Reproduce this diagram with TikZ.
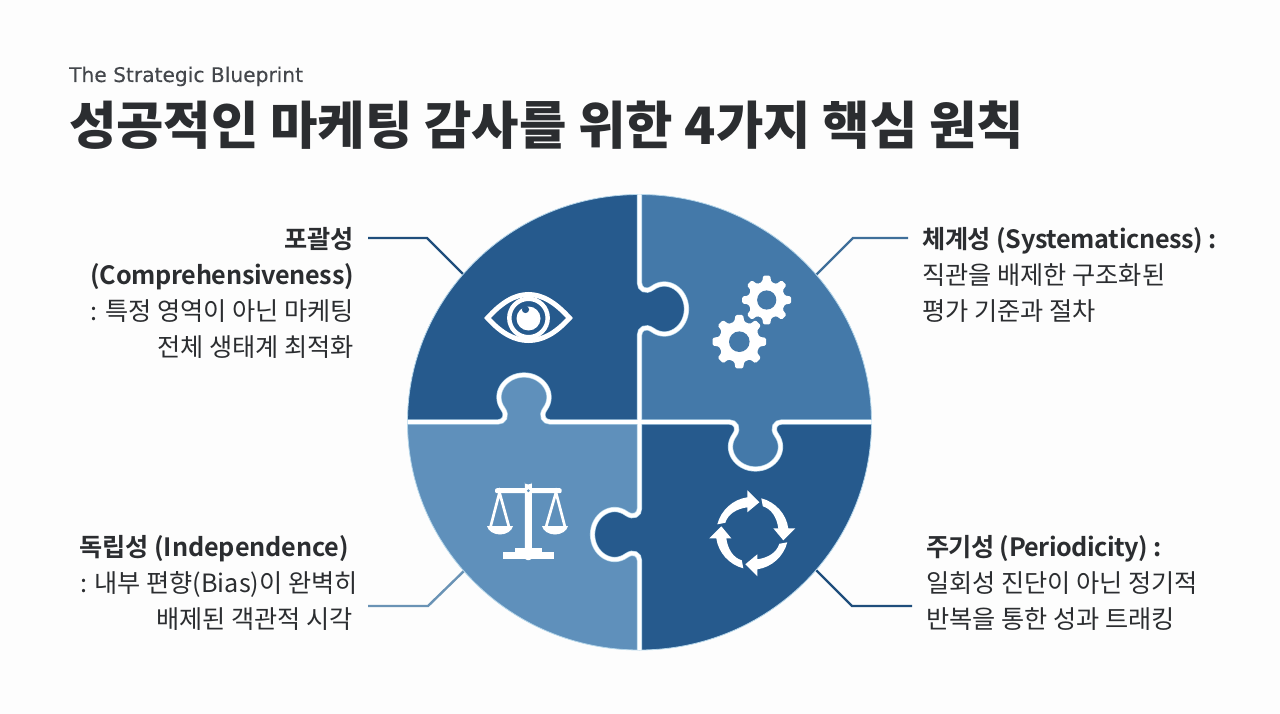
\documentclass[tikz,border=0pt]{standalone}
\usepackage{fontspec}
\setmainfont{Noto Sans CJK KR}
\newfontfamily\subf[FakeBold=0.2]{DejaVu Sans}
\newfontfamily\boldtight[LetterSpace=-1.3]{Noto Sans CJK KR Bold}
\newfontfamily\boldtighter[LetterSpace=-2]{Noto Sans CJK KR Bold}
\newfontfamily\boldloose[LetterSpace=-0.4]{Noto Sans CJK KR Bold}
\definecolor{bgc}{HTML}{FDFDFD}
\definecolor{pdark}{HTML}{265A8D}
\definecolor{pmid}{HTML}{4479A9}
\definecolor{plight}{HTML}{5F90BB}
\definecolor{rim}{HTML}{B5D6EA}
\definecolor{inkc}{HTML}{2B2D30}
\definecolor{subc}{HTML}{44474C}
\definecolor{lnd}{HTML}{1F4E7C}
\definecolor{lnm}{HTML}{3F6F9A}
\definecolor{lnl}{HTML}{6A93B5}
\tikzset{
  titletext/.style={anchor=base west,inner sep=0pt,text=inkc,font=\fontsize{51.5}{54}\selectfont\bfseries},
  subtext/.style={anchor=base west,inner sep=0pt,text=subc,font=\fontsize{20.2}{22}\selectfont\subf},
  lefttext/.style={anchor=north east,inner sep=0pt,align=right,text=inkc,font=\fontsize{25.2}{36}\selectfont},
  righttext/.style={anchor=north west,inner sep=0pt,align=left,text=inkc,font=\fontsize{25.2}{36}\selectfont},
  leader/.style={line width=2.4pt,line join=miter},
  seamrim/.style={draw=rim,line width=5.2pt},
  seamwhite/.style={draw=white,line width=3.9pt},
  iconw/.style={fill=white,draw=none}
}
\newcommand{\bt}[1]{{\boldtight #1}}
\def\seamL{-- (498,422) .. controls (504,422) and (508,416) .. (503,409) .. controls (492,394) and (505,375) .. (524,375) .. controls (543,375) and (556,394) .. (545,409) .. controls (540,416) and (544,422) .. (550,422) -- (639.5,422)}
\def\seamT{-- (639.5,335) .. controls (639.5,329) and (645.5,325) .. (652.5,330) .. controls (667.5,341) and (686.5,328) .. (686.5,309) .. controls (686.5,290) and (667.5,277) .. (652.5,288) .. controls (645.5,293) and (639.5,289) .. (639.5,283) -- (639.5,194.5)}
\def\seamB{-- (639.5,508.5) .. controls (639.5,514.5) and (633.5,518.5) .. (626.5,513.5) .. controls (611.5,502.5) and (592.5,515.5) .. (592.5,534.5) .. controls (592.5,553.5) and (611.5,566.5) .. (626.5,555.5) .. controls (633.5,550.5) and (639.5,554.5) .. (639.5,560.5) -- (639.5,650)}
\def\seamR{-- (781.5,422) .. controls (775.5,422) and (771.5,428) .. (776.5,435) .. controls (787.5,450) and (774.5,469) .. (755.5,469) .. controls (736.5,469) and (723.5,450) .. (734.5,435) .. controls (739.5,428) and (735.5,422) .. (729.5,422) -- (639.5,422)}
\newcommand{\gearicon}[5]{%
  \begin{scope}[shift={(#1,#2)}]
    \fill[white,rounded corners=1.3pt] (-90-14:#4)
      \foreach \k in {0,...,7}{
        -- (-90+\k*45-14:#4) -- (-90+\k*45-8:#3) -- (-90+\k*45+8:#3) -- (-90+\k*45+14:#4)
      } -- cycle;
    \fill[pmid] (0,0) circle[radius=#5];
  \end{scope}}
\begin{document}
\begin{tikzpicture}[x=1pt,y=-1pt]
\useasboundingbox (0,0) rectangle (1280,714);
\fill[bgc] (0,0) rectangle (1280,714);

\node[subtext] (sub) at (69,82) {The Strategic Blueprint};
\node[titletext] (ttl) at (69,145) {성공적인 마케팅 감사를 위한 4가지 핵심 원칙};

\coordinate (a1) at (368,238); \coordinate (a2) at (427,238); \coordinate (a3) at (466,277);
\coordinate (b1) at (908,238); \coordinate (b2) at (853,238); \coordinate (b3) at (815,276);
\coordinate (c1) at (368,606); \coordinate (c2) at (428,606); \coordinate (c3) at (466,569);
\coordinate (d1) at (912,606); \coordinate (d2) at (852,606); \coordinate (d3) at (814,568);
\draw[leader,lnd] (a1) -- (a2) -- (a3);
\draw[leader,lnm] (b1) -- (b2) -- (b3);
\draw[leader,lnl] (c1) -- (c2) -- (c3);
\draw[leader,lnd] (d1) -- (d2) -- (d3);

\path[fill=pdark] (407.5,422) \seamL \seamT .. controls (511.4,194.5) and (407.5,296.2) .. (407.5,422) -- cycle;
\path[fill=pmid] (639.5,422) \seamT .. controls (767.6,194.5) and (871.5,296.2) .. (871.5,422) \seamR -- cycle;
\path[fill=plight] (407.5,422) \seamL \seamB .. controls (511.4,650) and (407.5,548.2) .. (407.5,422) -- cycle;
\path[fill=pdark] (639.5,422) \seamB .. controls (767.6,650) and (871.5,548.2) .. (871.5,422) \seamR -- cycle;
\draw[rim,line width=.8pt] (639.5,422.25) ellipse[x radius=232,y radius=227.75];
\path[seamrim] (407.5,422) \seamL; \path[seamrim] (639.5,422) \seamT;
\path[seamrim] (639.5,422) \seamB; \path[seamrim] (871.5,422) \seamR;
\path[seamwhite] (407.5,422) \seamL; \path[seamwhite] (639.5,422) \seamT;
\path[seamwhite] (639.5,422) \seamB; \path[seamwhite] (871.5,422) \seamR;

% eye
\draw[white,line width=5pt,miter limit=10] (487.5,318) .. controls (502,302) and (515,294.5) .. (528.5,294.5) .. controls (542,294.5) and (555,302) .. (569.5,318) .. controls (555,334) and (542,340.5) .. (528.5,340.5) .. controls (515,340.5) and (502,334) .. (487.5,318) -- cycle;
\draw[white,line width=4.4pt] (528.5,318) circle[radius=19.2];
\fill[white] (528.5,318.5) circle[radius=12];
\fill[pdark] (525.5,309.5) circle[radius=3.6];

% gears
\gearicon{766.7}{300}{24.7}{18.6}{9.6}
\gearicon{739.3}{341.7}{27}{20.6}{10.3}

% scale
\fill[iconw,rounded corners=2.5pt] (524.8,560) -- (524.8,481) arc[start angle=180,end angle=0,radius=3.5] -- (531.8,560) -- cycle;
\fill[iconw,rounded corners=2pt] (495,488.2) rectangle (561.7,493.2);
\fill[plight] (528.3,490.7) circle[radius=1.5];
\draw[white,line width=2.7pt] (490.5,527) -- (499.5,492.5) -- (509,527);
\draw[white,line width=2.7pt] (546,527) -- (556,492.5) -- (565,527);
\fill[iconw] (487,526) .. controls (488,531) and (494,534.5) .. (500,534.5) .. controls (506,534.5) and (512,531) .. (513,526) -- cycle;
\fill[iconw] (542,526) .. controls (543,531) and (549,534.5) .. (555,534.5) .. controls (561,534.5) and (567,531) .. (568,526) -- cycle;
\fill[iconw] (515,548) rectangle (541.7,553);
\fill[iconw] (502.7,552) rectangle (554,559.3);

% cycle
\foreach \a in {0,90,180,270}{
  \begin{scope}[shift={(752.3,533.3)},rotate=\a]
    \fill[white] (9,-35) .. controls (23,-31.4) and (34,-19.4) .. (36,-5) -- (43,-5) -- (31,7) -- (21,-5) -- (26,-5) .. controls (24.5,-16) and (19,-24.5) .. (10.5,-27) -- cycle;
  \end{scope}}

% labels
\node[lefttext] (tl) at (354,227.5) {\bt{포괄성}\\\bt{(Comprehensiveness)}\\: 특정 영역이 아닌 마케팅\\전체 생태계 최적화};
\node[righttext] (tr) at (922,227) {{\boldtight 체계성 (Systematicness) :}\\직관을 배제한 구조화된\\평가 기준과 절차};
\node[lefttext] (bl) at (358,535) {{\boldloose 독립성 (Independence)}\hspace*{9pt}\\: 내부 편향(Bias)이 완벽히\\배제된 객관적 시각\hspace*{5pt}};
\node[righttext] (br) at (926,535) {{\boldtighter 주기성 (Periodicity) :}\\일회성 진단이 아닌 정기적\\반복을 통한 성과 트래킹};
\end{tikzpicture}
\end{document}
